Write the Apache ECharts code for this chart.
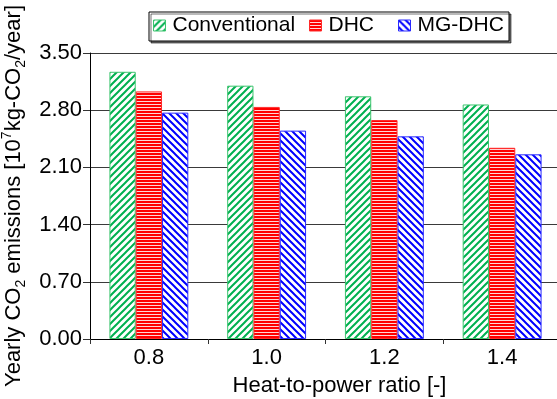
<!DOCTYPE html>
<html>
<head>
<meta charset="utf-8">
<script src="https://cdn.jsdelivr.net/npm/echarts@6/dist/echarts.min.js"></script>
<style>
  html, body { margin: 0; padding: 0; background: #fff; }
  #chart { width: 557px; height: 399px; }
</style>
</head>
<body>
<div id="chart"></div>
<script>
const categories = ['0.8', '1.0', '1.2', '1.4']
const seriesNames = ['Conventional', 'DHC', 'MG-DHC']
const conventional = [3.27, 3.10, 2.97, 2.87]
const dhc = [3.03, 2.84, 2.68, 2.34]
const mgdhc = [2.77, 2.55, 2.48, 2.26]
const yMin = 0
const yMax = 3.5
const yStep = 0.7

const font = '"Liberation Sans", Arial, sans-serif'

// 斜线 / 横线 填充
function hatch (color, kind) {
  const c = document.createElement('canvas')
  const ctx = c.getContext('2d')
  if (kind === 'h') {
    c.width = 4
    c.height = 3
    ctx.fillStyle = '#ffd6d6'
    ctx.fillRect(0, 0, 4, 3)
    ctx.fillStyle = color
    ctx.fillRect(0, 0, 4, 2)
    return c
  }
  const p = 7
  c.width = p
  c.height = p
  ctx.fillStyle = '#fff'
  ctx.fillRect(0, 0, p, p)
  ctx.strokeStyle = color
  ctx.lineWidth = 2
  ctx.beginPath()
  if (kind === '/') {
    for (let k = -1; k <= 1; k++) {
      ctx.moveTo(k * p - 1, p + 1)
      ctx.lineTo(k * p + p + 1, -1)
    }
  } else {
    for (let k = -1; k <= 1; k++) {
      ctx.moveTo(k * p - 1, -1)
      ctx.lineTo(k * p + p + 1, p + 1)
    }
  }
  ctx.stroke()
  return c
}

const myChart = echarts.init(document.getElementById('chart'))

function barSeries (name, data, color, border, kind) {
  return {
    name: name,
    type: 'bar',
    data: data,
    barGap: '0%',
    barCategoryGap: '33%',
    itemStyle: {
      color: { image: hatch(color, kind), repeat: 'repeat' },
      borderColor: border,
      borderWidth: 1
    }
  }
}

function legendAt (name, left, border) {
  return {
    data: [name],
    left: left,
    top: 15,
    padding: 0,
    icon: 'rect',
    itemWidth: 12,
    itemHeight: 11,
    itemGap: 0,
    itemStyle: { borderColor: border, borderWidth: 1 },
    textStyle: { fontFamily: font, fontSize: 21, color: '#000', padding: [0, 0, 0, 2] }
  }
}

const option = {
  backgroundColor: '#fff',
  animation: false,
  graphic: [
    {
      type: 'rect',
      shape: { x: 149, y: 12, width: 360, height: 29 },
      style: {
        fill: '#fff',
        stroke: '#000',
        lineWidth: 1,
        shadowColor: 'rgba(0,0,0,0.55)',
        shadowOffsetX: 2,
        shadowOffsetY: 2,
        shadowBlur: 0
      },
      z: 0
    }
  ],
  legend: [
    legendAt(seriesNames[0], 153, '#3cc46e'),
    legendAt(seriesNames[1], 309, '#ff2a2a'),
    legendAt(seriesNames[2], 398, '#2a2aff')
  ],
  grid: {
    left: 90,
    top: 53,
    right: -4,
    bottom: 60,
    containLabel: false,
    outerBoundsMode: 'none'
  },
  xAxis: {
    type: 'category',
    data: categories,
    name: 'Heat-to-power ratio [-]',
    nameLocation: 'middle',
    nameGap: 36,
    nameTextStyle: { fontFamily: font, fontSize: 22, color: '#000', padding: [0, 0, 0, 28] },
    axisLine: { lineStyle: { color: '#000', width: 1 } },
    axisTick: { show: true, length: 5, lineStyle: { color: '#333' } },
    axisLabel: { fontFamily: font, fontSize: 22, color: '#000', margin: 8 }
  },
  yAxis: {
    type: 'value',
    min: yMin,
    max: yMax,
    interval: yStep,
    name: '{a|Yearly CO}{sub|2}{a| emissions [10}{sup|7}{a|kg-CO}{sub|2}{a|/year]}',
    nameLocation: 'middle',
    nameRotate: 90,
    nameGap: 60,
    nameTextStyle: {
      fontFamily: font,
      fontSize: 22,
      color: '#000',
      rich: {
        a: { fontFamily: font, fontSize: 22, color: '#000', lineHeight: 28, verticalAlign: 'middle' },
        sub: { fontFamily: font, fontSize: 14, color: '#000', lineHeight: 28, verticalAlign: 'bottom' },
        sup: { fontFamily: font, fontSize: 14, color: '#000', lineHeight: 28, verticalAlign: 'top' }
      }
    },
    axisLine: { show: true, lineStyle: { color: '#000', width: 1 } },
    axisTick: { show: true, length: 7, lineStyle: { color: '#333' } },
    axisLabel: {
      fontFamily: font,
      fontSize: 22,
      color: '#000',
      margin: 8,
      formatter: function (v) { return v.toFixed(2) }
    },
    splitLine: { show: true, lineStyle: { color: '#3a3a3a', width: 1.2 } }
  },
  series: [
    barSeries(seriesNames[0], conventional, '#00b050', '#3cc46e', '/'),
    barSeries(seriesNames[1], dhc, '#ff0000', '#ff2a2a', 'h'),
    barSeries(seriesNames[2], mgdhc, '#0000ff', '#2a2aff', '\\')
  ]
}

myChart.setOption(option)
window.addEventListener('resize', function () {
  myChart.resize()
})
</script>
</body>
</html>
